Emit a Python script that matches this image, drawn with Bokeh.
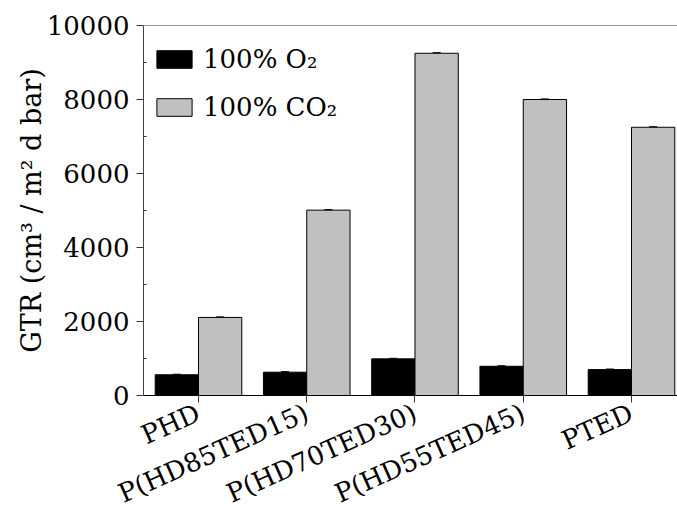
import numpy as np
from bokeh.plotting import figure
from bokeh.models import (ColumnDataSource, FixedTicker, Range1d, Legend, LegendItem,
                          Whisker, Span)
from bokeh.transform import dodge
from bokeh.embed import file_html
from bokeh.resources import INLINE

categories = ["PHD", "P(HD85TED15)", "P(HD70TED30)", "P(HD55TED45)", "PTED"]
o2_values = [560, 630, 990, 790, 700]
co2_values = [2110, 5010, 9250, 8000, 7250]
o2_err = [15, 15, 15, 15, 15]
co2_err = [15, 15, 15, 15, 15]
y_ticks = [0, 2000, 4000, 6000, 8000, 10000]
y_minor = [1000, 3000, 5000, 7000, 9000]

xpos = list(range(1, len(categories) + 1))
src = ColumnDataSource(dict(
    x=xpos,
    o2=o2_values, co2=co2_values,
    o2_lo=[v - e for v, e in zip(o2_values, o2_err)],
    o2_hi=[v + e for v, e in zip(o2_values, o2_err)],
    co2_lo=[v - e for v, e in zip(co2_values, co2_err)],
    co2_hi=[v + e for v, e in zip(co2_values, co2_err)],
))

FONT = "DejaVu Serif"
FS = "26px"

p = figure(width=677, height=526, output_backend="svg", toolbar_location=None,
           x_range=Range1d(0.492, 5.425), y_range=Range1d(0, 10000),
           min_border_left=143, min_border_right=0, min_border_top=25,
           min_border_bottom=131)
p.outline_line_color = None
p.grid.grid_line_color = None
p.background_fill_color = "white"
p.border_fill_color = "white"

r1 = p.vbar(x=dodge("x", -0.2), top="o2", width=0.4, source=src,
            fill_color="black", line_color="black", line_width=1)
r2 = p.vbar(x=dodge("x", 0.2), top="co2", width=0.4, source=src,
            fill_color="#C0C0C0", line_color="black", line_width=1)

for lo, hi, off in (("o2_lo", "o2_hi", -0.2), ("co2_lo", "co2_hi", 0.2)):
    w = Whisker(base=dodge("x", off), lower=lo, upper=hi, source=src,
                line_color="black", line_width=1)
    w.upper_head.size = 8
    w.lower_head.size = 8
    w.upper_head.line_color = "black"
    w.lower_head.line_color = "black"
    p.add_layout(w)

p.add_layout(Span(location=10000, dimension="width", line_color="#333333", line_width=1))

# x axis
p.xaxis.ticker = FixedTicker(ticks=xpos)
p.xaxis.major_label_overrides = {i: c for i, c in zip(xpos, categories)}
p.xaxis.major_label_orientation = 0.419
p.xaxis.major_label_standoff = 9
p.xaxis.major_label_text_font = FONT
p.xaxis.major_label_text_font_size = FS
p.xaxis.major_label_text_color = "black"
p.xaxis.minor_tick_line_color = None
p.xaxis.major_tick_out = 7
p.xaxis.major_tick_in = 0
p.xaxis.axis_line_color = "black"
p.xaxis.major_tick_line_color = "#333333"

# y axis
p.yaxis.ticker = FixedTicker(ticks=y_ticks, minor_ticks=y_minor)
p.yaxis.major_tick_out = 7
p.yaxis.major_tick_in = 0
p.yaxis.minor_tick_out = 0
p.yaxis.minor_tick_in = 3
p.yaxis.axis_label = "GTR (cm³ / m² d bar)"
p.yaxis.axis_line_color = "#444444"
p.yaxis.major_tick_line_color = "#333333"
p.yaxis.minor_tick_line_color = "#333333"
p.yaxis.major_label_text_font = FONT
p.yaxis.major_label_text_font_size = FS
p.yaxis.major_label_text_color = "black"
p.yaxis.axis_label_text_font = FONT
p.yaxis.axis_label_text_font_size = "27px"
p.yaxis.axis_label_text_font_style = "normal"
p.yaxis.axis_label_text_color = "black"
p.yaxis.major_label_standoff = 7
p.yaxis.axis_label_standoff = -3

legend = Legend(items=[LegendItem(label="100% O₂", renderers=[r1]),
                       LegendItem(label="100% CO₂", renderers=[r2])],
                location=(9, 271), orientation="vertical",
                glyph_width=44, glyph_height=22, label_height=34, spacing=14,
                label_standoff=7, padding=0, margin=0,
                border_line_color=None, background_fill_alpha=0,
                label_text_font=FONT, label_text_font_size=FS,
                label_text_color="black")
p.add_layout(legend)

open("out.html", "w").write(file_html(p, INLINE))
